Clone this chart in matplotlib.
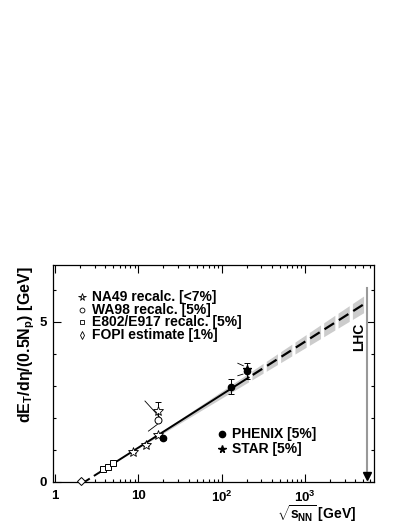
import matplotlib
matplotlib.use('Agg')
import matplotlib.pyplot as plt
import numpy as np
from matplotlib.ticker import FixedLocator, FixedFormatter, LogLocator, NullFormatter

plt.rcParams['font.family'] = ['Liberation Sans', 'DejaVu Sans']
plt.rcParams['font.weight'] = 'bold'
plt.rcParams['mathtext.fontset'] = 'custom'
plt.rcParams['mathtext.rm'] = 'Liberation Sans:bold'
plt.rcParams['mathtext.bf'] = 'Liberation Sans:bold'
plt.rcParams['mathtext.it'] = 'Liberation Sans:bold'

#* ----- Data -----
fopi_s = [2.03]
fopi_y = [0.03]

e802_s = [3.8, 4.3, 4.9]
e802_y = [0.39, 0.45, 0.57]

na49_s = [8.7, 12.3, 17.3, 17.3]
na49_y = [0.94, 1.15, 1.46, 2.2]
na49_err = [0.05, 0.05, 0.07, 0.3]

wa98_s = [17.3]
wa98_y = [1.93]

phenix_s = [19.6, 130., 200.]
phenix_y = [1.35, 2.97, 3.46]
phenix_err = [0.05, 0.24, 0.24]

star_s = [200.]
star_y = [3.52]

# systematic brackets near SPS and RHIC points
bracket_s = [[12.0, 17.8], [16.9, 13.2], [156., 182.], [156., 180.]]
bracket_y = [[2.52, 2.03], [1.79, 1.58], [3.70, 3.62], [3.31, 3.36]]

# log fit  y = slope*log10(s/s0), band grows with log s
fit_s0 = 2.28
fit_slope = 1.656
band_k = 0.09
band_log0 = 0.8
fit_solid_end = 210.
lhc_s = 5500.

legend_top = ['NA49 recalc. [<7%]', 'WA98 recalc. [5%]', 'E802/E917 recalc. [5%]', 'FOPI estimate [1%]']
legend_bot = ['PHENIX [5%]', 'STAR [5%]']


def fit(s):
    return fit_slope * np.log10(s / fit_s0)


def band(s):
    return band_k * (np.log10(s) - band_log0)


fig = plt.figure(figsize=(4.07, 5.27), dpi=100)
ax = fig.add_axes([0.1295, 0.086, 0.7894, 0.4112])

#* ----- Fit band and line -----
s_band = np.logspace(np.log10(10.), np.log10(fit_solid_end), 100)
ax.fill_between(s_band, fit(s_band) - band(s_band), fit(s_band) + band(s_band),
                color='#cccccc', lw=0, zorder=1)

# dashed extrapolation, band drawn in blocks under the dashes
nseg = 8
edges = np.linspace(np.log10(fit_solid_end) + 0.04, np.log10(lhc_s), nseg + 1)
for i in range(nseg):
    a = edges[i]
    b = edges[i] + 0.78 * (edges[i + 1] - edges[i])
    ss = np.logspace(a, b, 10)
    ax.fill_between(ss, fit(ss) - band(ss), fit(ss) + band(ss), color='#cccccc', lw=0, zorder=1)
    ss2 = np.logspace(a + 0.01, b - 0.01, 10)
    ax.plot(ss2, fit(ss2), color='k', lw=1.6, zorder=2, solid_capstyle='butt')

s_solid = np.logspace(np.log10(3.4), np.log10(fit_solid_end), 100)
ax.plot(s_solid, fit(s_solid), color='k', lw=1.4, zorder=2)
s_low = np.logspace(np.log10(fit_s0), np.log10(3.4), 20)
ax.plot(s_low, fit(s_low), color='k', lw=1.4, dashes=(3, 2.5), zorder=2)

#* ----- Data points -----
for bs, by in zip(bracket_s, bracket_y):
    ax.plot(bs, by, color='k', lw=0.6, zorder=3)

ax.errorbar(na49_s, na49_y, yerr=na49_err, fmt='none', ecolor='k', elinewidth=0.7, capsize=2, capthick=0.7, zorder=3)
ax.errorbar(phenix_s, phenix_y, yerr=phenix_err, fmt='none', ecolor='k', elinewidth=0.7, capsize=2, capthick=0.7, zorder=3)

ax.plot(fopi_s, fopi_y, 'D', ms=4, mfc='white', mec='k', mew=0.7, ls='none', zorder=4, clip_on=False)
ax.plot(e802_s, e802_y, 's', ms=4, mfc='white', mec='k', mew=0.7, ls='none', zorder=4)
ax.plot(wa98_s, wa98_y, 'o', ms=5, mfc='white', mec='k', mew=0.7, ls='none', zorder=4)
ax.plot(na49_s, na49_y, '*', ms=7, mfc='white', mec='k', mew=0.6, ls='none', zorder=4)
ax.plot(phenix_s, phenix_y, 'o', ms=4.5, color='k', ls='none', zorder=5)
ax.plot(star_s, star_y, '*', ms=6, color='k', ls='none', zorder=5)

#* ----- LHC marker -----
ax.plot([lhc_s, lhc_s], [0.15, 6.05], color='#999999', lw=1.5, zorder=3)
ax.plot([lhc_s], [0.17], 'v', color='k', ms=5.5, zorder=4)
ax.text(4450, 4.52, 'LHC', rotation=90, ha='center', va='center', fontsize=10, fontweight='bold')

#* ----- Legends (drawn by hand like the original) -----
leg_y = [5.78, 5.37, 4.98, 4.58]
leg_marks = [('*', 5.5), ('o', 3.5), ('s', 3), ('d', 4)]
for (m, ms), yy, lab in zip(leg_marks, leg_y, legend_top):
    ax.plot([2.09], [yy], m, ms=ms, mfc='white', mec='k', mew=0.6)
    ax.text(2.76, yy, lab, ha='left', va='center', fontsize=10, fontweight='bold')

leg2_y = [1.49, 1.01]
for (m, ms), yy, lab in zip([('o', 4.5), ('*', 5.5)], leg2_y, legend_bot):
    ax.plot([100.], [yy], m, ms=ms, color='k')
    ax.text(134., yy, lab, ha='left', va='center', fontsize=10, fontweight='bold')

#* ----- Axes -----
ax.set_xscale('log')
ax.set_xlim(0.938, 6720)
ax.set_ylim(0, 6.77)

ax.xaxis.set_major_locator(FixedLocator([1, 10, 100, 1000]))
ax.xaxis.set_major_formatter(FixedFormatter(['1', '10', r'$10^{2}$', r'$10^{3}$']))
ax.xaxis.set_minor_locator(LogLocator(base=10, subs=np.arange(2, 10)))
ax.xaxis.set_minor_formatter(NullFormatter())

ax.yaxis.set_major_locator(FixedLocator([0, 5]))
ax.yaxis.set_minor_locator(FixedLocator([1, 2, 3, 4, 6]))

ax.tick_params(which='both', direction='in', top=True, right=True, width=0.8, labelsize=9.5)
ax.tick_params(which='major', length=5.8)
ax.tick_params(which='minor', length=2.5)
ax.tick_params(axis='x', pad=6)
ax.tick_params(axis='y', pad=4)
for sp in ax.spines.values():
    sp.set_linewidth(0.9)

fig.text(27 / 407, 1 - 345 / 527, r'dE$_{\mathbf{T}}$/dη/(0.5N$_{\mathbf{p}}$) [GeV]', rotation=90,
         ha='center', va='center', fontsize=11.5, fontweight='bold')
fig.text(356 / 407, 1 - 514 / 527, r'$\sqrt{\mathbf{s}_{\mathbf{NN}}}$ [GeV]', ha='right', va='center',
         fontsize=10, fontweight='bold')

plt.savefig('out.png', dpi=100)
